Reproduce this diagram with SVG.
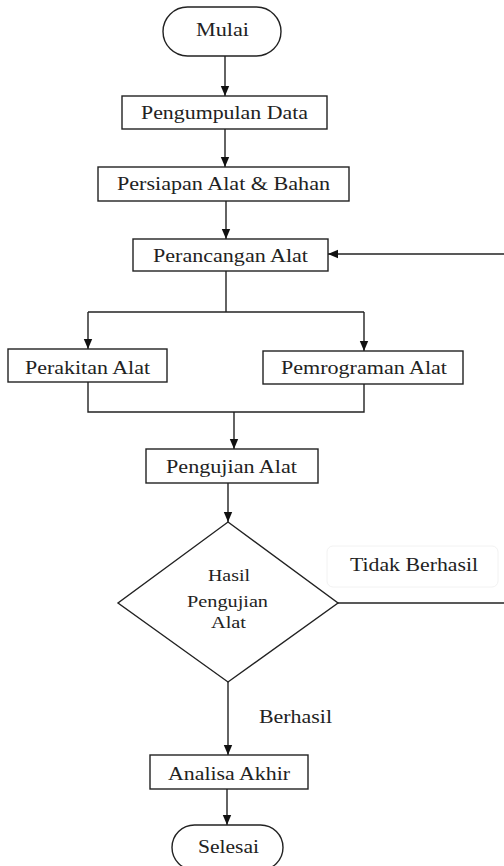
<svg xmlns="http://www.w3.org/2000/svg" width="504" height="866" viewBox="0 0 504 866">
<style>
.box{fill:#fff;stroke:#222;stroke-width:1.4}
.ln{fill:none;stroke:#222;stroke-width:1.4}
.txt{font-family:'Liberation Serif','Times New Roman',Times,'DejaVu Serif','Noto Serif',Tinos,Georgia,serif;fill:#222}
.t{font-size:19px}
.s{font-size:16px}
</style>
<defs>
<marker id="ah" markerUnits="userSpaceOnUse" markerWidth="10" markerHeight="10" refX="10" refY="5" orient="auto">
<path d="M0,0.8 L10,5 L0,9.2 z" fill="#111"/>
</marker>
</defs>
<rect width="504" height="866" fill="#fff"/>
<g id="connectors">
<path class="ln" d="M225,56 V96" marker-end="url(#ah)"/>
<path class="ln" d="M225,129 V167" marker-end="url(#ah)"/>
<path class="ln" d="M226,201 V239" marker-end="url(#ah)"/>
<path class="ln" d="M504,254 H328" marker-end="url(#ah)"/>
<path class="ln" d="M226,271 V312"/>
<path class="ln" d="M88,312 H364"/>
<path class="ln" d="M88,312 V349" marker-end="url(#ah)"/>
<path class="ln" d="M364,312 V351" marker-end="url(#ah)"/>
<path class="ln" d="M88,382 V412 H364 V384"/>
<path class="ln" d="M234,412 V449" marker-end="url(#ah)"/>
<path class="ln" d="M228,483 V522" marker-end="url(#ah)"/>
<path class="ln" d="M338,603 H504"/>
<path class="ln" d="M228,682 V755" marker-end="url(#ah)"/>
<path class="ln" d="M227,789 V825" marker-end="url(#ah)"/>
</g>
<g class="txt">
<g id="mulai">
<rect class="box" x="163" y="7" width="118" height="49" rx="24.5"/>
<text class="txt" x="196" y="36" font-size="18" textLength="53" lengthAdjust="spacingAndGlyphs">Mulai</text>
</g>
<g id="pengumpulan">
<rect class="box" x="122" y="96" width="205" height="33"/>
<text class="txt t" x="141" y="119" textLength="167" lengthAdjust="spacingAndGlyphs">Pengumpulan Data</text>
</g>
<g id="persiapan">
<rect class="box" x="98" y="167" width="251" height="34"/>
<text class="txt t" x="117" y="190" textLength="213" lengthAdjust="spacingAndGlyphs">Persiapan Alat &amp; Bahan</text>
</g>
<g id="perancangan">
<rect class="box" x="133" y="239" width="195" height="32"/>
<text class="txt t" x="153" y="262" textLength="155" lengthAdjust="spacingAndGlyphs">Perancangan Alat</text>
</g>
<g id="perakitan">
<rect class="box" x="8" y="349" width="159" height="33"/>
<text class="txt t" x="25" y="374" textLength="125" lengthAdjust="spacingAndGlyphs">Perakitan Alat</text>
</g>
<g id="pemrograman">
<rect class="box" x="263" y="351" width="200" height="33"/>
<text class="txt t" x="281" y="374" textLength="166" lengthAdjust="spacingAndGlyphs">Pemrograman Alat</text>
</g>
<g id="pengujian">
<rect class="box" x="146" y="449" width="172" height="34"/>
<text class="txt t" x="166" y="473" textLength="131" lengthAdjust="spacingAndGlyphs">Pengujian Alat</text>
</g>
<g id="hasil">
<polygon class="box" points="228,522 338,603 228,682 118,603"/>
<text class="txt s" x="208" y="581" textLength="42" lengthAdjust="spacingAndGlyphs">Hasil</text>
<text class="txt s" x="187" y="607" textLength="81" lengthAdjust="spacingAndGlyphs">Pengujian</text>
<text class="txt s" x="211" y="628" textLength="35" lengthAdjust="spacingAndGlyphs">Alat</text>
</g>
<g id="label-tidak">
<rect x="327" y="546" width="171" height="41" rx="6" fill="#fff" stroke="#f2f2f2" stroke-width="1"/>
<text class="txt" x="350" y="571" font-size="18" textLength="128" lengthAdjust="spacingAndGlyphs">Tidak Berhasil</text>
</g>
<g id="label-berhasil">
<text class="txt t" x="259" y="723" textLength="73" lengthAdjust="spacingAndGlyphs">Berhasil</text>
</g>
<g id="analisa">
<rect class="box" x="150" y="755" width="158" height="34"/>
<text class="txt t" x="168" y="780" textLength="122" lengthAdjust="spacingAndGlyphs">Analisa Akhir</text>
</g>
<g id="selesai">
<rect class="box" x="172" y="825" width="111" height="45" rx="22.5"/>
<text class="txt t" x="198" y="853" textLength="61" lengthAdjust="spacingAndGlyphs">Selesai</text>
</g>
</g>
</svg>
